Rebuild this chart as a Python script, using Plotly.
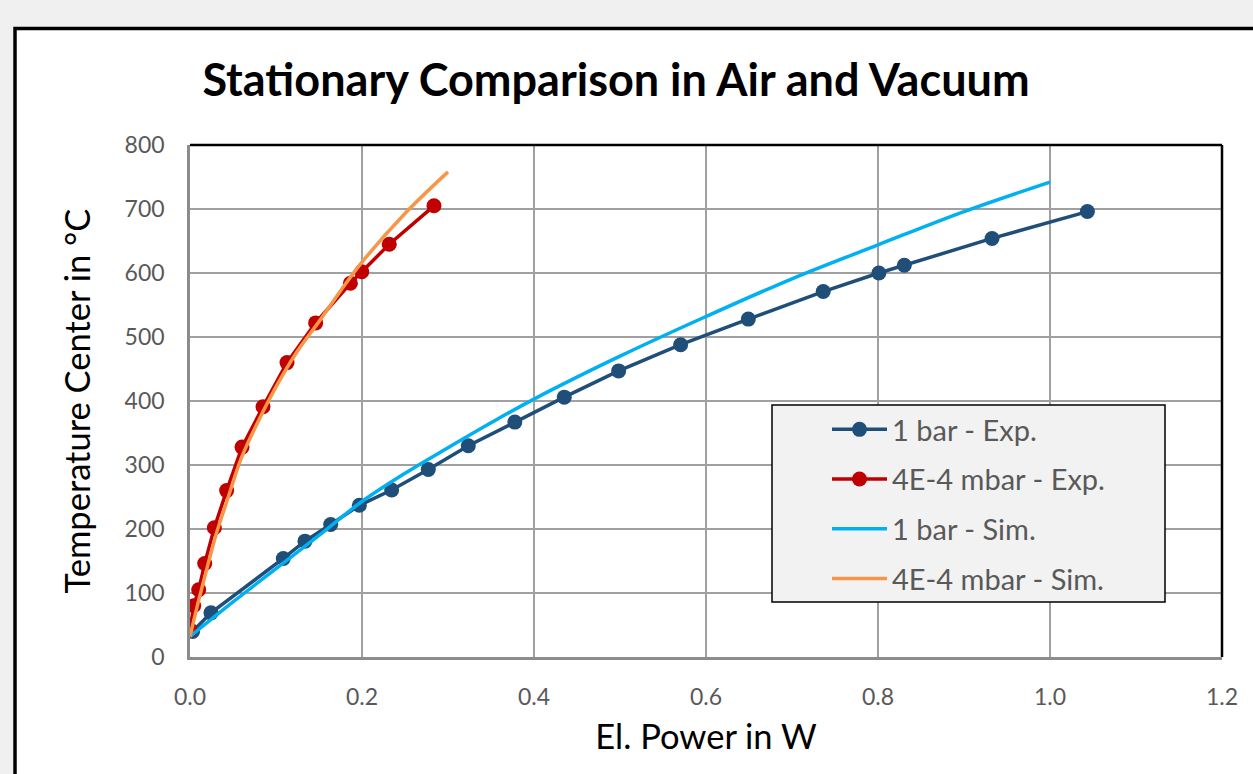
import plotly.graph_objects as go

# ---------------- data ----------------
exp_air_power = [0.003, 0.0244, 0.1085, 0.1337, 0.1636, 0.1969, 0.2345, 0.2771, 0.3236,
                 0.3777, 0.4352, 0.4984, 0.5705, 0.6492, 0.7363, 0.8010, 0.8306, 0.9326, 1.0435]
exp_air_temp = [40, 69, 154, 181, 207, 237, 261, 293, 330,
                367, 406, 447, 488, 528, 571, 600, 612, 654, 696]

exp_vac_power = [0.0, 0.0043, 0.0101, 0.0171, 0.0283, 0.0426, 0.0605, 0.0849, 0.1128,
                 0.1461, 0.1865, 0.1997, 0.2317, 0.2837]
exp_vac_temp = [42, 80, 105, 146, 202, 260, 328, 391, 460,
                522, 584, 602, 645, 705]

sim_air_power = [0.0, 0.05, 0.1, 0.15, 0.2, 0.25, 0.3, 0.35, 0.4, 0.5, 0.6, 0.7, 0.8, 0.9, 1.0]
sim_air_temp = [32, 86, 138, 190, 243, 287, 327, 366, 403, 470, 532, 591, 644, 696, 742]

sim_vac_power = [0.0, 0.01, 0.02, 0.03, 0.045, 0.06, 0.08, 0.1, 0.125, 0.15, 0.175, 0.2, 0.25, 0.3]
sim_vac_temp = [32, 88, 140, 190, 252, 312, 370, 422, 478, 524, 572, 617, 693, 758]

x_ticks = [0.0, 0.2, 0.4, 0.6, 0.8, 1.0, 1.2]
y_ticks = [0, 100, 200, 300, 400, 500, 600, 700, 800]

names = ["1 bar - Exp.", "4E-4 mbar - Exp.", "1 bar - Sim.", "4E-4 mbar - Sim."]
colors = ["#1F4E79", "#C00000", "#00B0F0", "#F79646"]

FONT = "Lato"
W, H = 1253, 774
L, R, T, B = 190, 1222, 145, 657  # plot area pixels


def px(x):
    return (x - L) / (R - L)


def py(y):
    return (B - y) / (B - T)


fig = go.Figure()
fig.add_trace(go.Scatter(x=exp_air_power, y=exp_air_temp, mode="lines+markers", name=names[0],
                         legendgroup="a", line=dict(color=colors[0], width=3.5),
                         marker=dict(color=colors[0], size=15)))
fig.add_trace(go.Scatter(x=exp_vac_power, y=exp_vac_temp, mode="lines+markers", name=names[1],
                         legendgroup="b", line=dict(color=colors[1], width=3.5),
                         marker=dict(color=colors[1], size=15)))
fig.add_trace(go.Scatter(x=sim_air_power, y=sim_air_temp, mode="lines", name=names[2],
                         legendgroup="c", line=dict(color=colors[2], width=3.5, shape="spline")))
fig.add_trace(go.Scatter(x=sim_vac_power, y=sim_vac_temp, mode="lines", name=names[3],
                         legendgroup="d", line=dict(color=colors[3], width=3.5, shape="spline")))

shapes = [
    # outer chart frame (white area with black border)
    dict(type="rect", xref="paper", yref="paper", layer="below",
         x0=px(15), x1=px(1300), y0=py(850), y1=py(28.5),
         fillcolor="white", line=dict(color="black", width=3.5)),
    # top and right borders of plot area
    dict(type="line", xref="paper", yref="paper", x0=0, x1=1, y0=1, y1=1,
         line=dict(color="black", width=2.5)),
    dict(type="line", xref="paper", yref="paper", x0=1, x1=1, y0=0, y1=1,
         line=dict(color="black", width=2.5)),
    # legend box
    dict(type="rect", xref="paper", yref="paper", layer="above",
         x0=px(772), x1=px(1165), y0=py(602), y1=py(405),
         fillcolor="#F2F2F2", line=dict(color="black", width=1.5)),
]

fig.update_layout(
    width=W, height=H,
    margin=dict(l=L, r=W - R, t=T, b=H - B, pad=0),
    paper_bgcolor="#F0F0F0",
    plot_bgcolor="rgba(0,0,0,0)",
    font=dict(family=FONT, color="#595959"),
    title=dict(text="<b>Stationary Comparison in Air and Vacuum</b>",
               font=dict(family=FONT, size=45, color="black"),
               x=616 / W, xanchor="center",
               y=1 - 80 / H, yanchor="middle"),
    xaxis=dict(range=[0, 1.2], tickvals=x_ticks, tickformat=".1f",
               showgrid=True, gridcolor="#A0A0A0", gridwidth=1.5,
               showline=True, linecolor="#8C8C8C", linewidth=2.5,
               ticks="outside", ticklen=18, tickcolor="rgba(0,0,0,0)",
               tickfont=dict(family=FONT, size=23, color="#595959"),
               zeroline=False,
               title=dict(text="El. Power in W", standoff=16,
                          font=dict(family=FONT, size=34.5, color="black"))),
    yaxis=dict(range=[0, 800], tickvals=y_ticks,
               showgrid=True, gridcolor="#A0A0A0", gridwidth=1.5,
               showline=True, linecolor="#8C8C8C", linewidth=2.5,
               ticks="outside", ticklen=18, tickcolor="rgba(0,0,0,0)",
               tickfont=dict(family=FONT, size=23, color="#595959"),
               zeroline=False,
               title=dict(text="Temperature Center in °C", standoff=24,
                          font=dict(family=FONT, size=34.5, color="black"))),
    shapes=shapes,
    showlegend=True,
    legend=dict(x=px(827), y=py(404), xanchor="left", yanchor="top",
                bgcolor="rgba(0,0,0,0)", borderwidth=0,
                font=dict(family=FONT, size=29, color="#595959"),
                tracegroupgap=9, itemwidth=55, traceorder="grouped"),
)

fig.write_html("out.html")
